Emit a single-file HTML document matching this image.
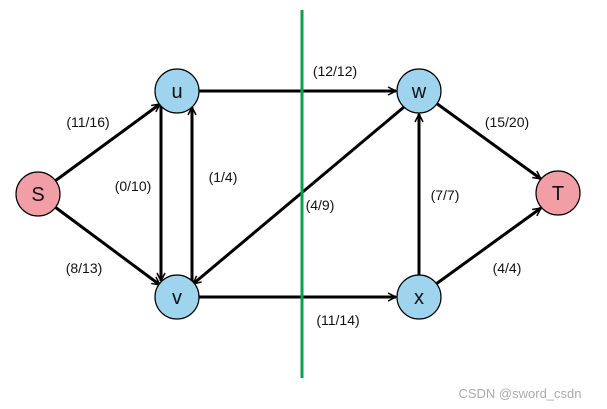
<!DOCTYPE html>
<html><head><meta charset="utf-8"><style>
html,body{margin:0;padding:0;background:#fff;}
svg{display:block;}
text{font-family:"Liberation Sans",Arial,sans-serif;}
</style></head><body>
<svg width="607" height="409" viewBox="0 0 607 409" xmlns="http://www.w3.org/2000/svg">
<defs>
<marker id="a" viewBox="0 0 10 10" refX="9" refY="5" markerWidth="10" markerHeight="10" markerUnits="userSpaceOnUse" orient="auto">
<path d="M1,1 L9,5 L1,9" fill="none" stroke="#000" stroke-width="1.5"/>
</marker>
</defs>
<g stroke="#000" stroke-width="3" fill="none" marker-end="url(#a)">
<line x1="55" y1="181" x2="160" y2="104"/>
<line x1="55" y1="207" x2="160" y2="285"/>
<line x1="161" y1="106" x2="161" y2="281"/>
<line x1="192" y1="282" x2="192" y2="107"/>
<line x1="199" y1="91" x2="396" y2="91"/>
<line x1="404" y1="107" x2="193" y2="284"/>
<line x1="199" y1="297" x2="396" y2="297"/>
<line x1="419" y1="275" x2="419" y2="114"/>
<line x1="436" y1="103" x2="541" y2="179"/>
<line x1="436" y1="284" x2="541" y2="208"/>
</g>
<line x1="302" y1="10" x2="302" y2="378" stroke="#0aa14a" stroke-width="3"/>
<g stroke="#000" stroke-width="1.2">
<circle cx="38" cy="194" r="22" fill="#f19ea6"/>
<circle cx="177" cy="91" r="22" fill="#9fd4ee"/>
<circle cx="177" cy="297" r="22" fill="#9fd4ee"/>
<circle cx="419" cy="91" r="22" fill="#9fd4ee"/>
<circle cx="419" cy="297" r="22" fill="#9fd4ee"/>
<circle cx="558" cy="193" r="22" fill="#f19ea6"/>
</g>
<g font-size="20" text-anchor="middle" fill="#111">
<text x="38" y="201">S</text>
<text x="177" y="98">u</text>
<text x="177" y="304">v</text>
<text x="419" y="98">w</text>
<text x="419" y="304">x</text>
<text x="558" y="200">T</text>
</g>
<g font-size="14" text-anchor="middle" fill="#111">
<text x="88" y="127">(11/16)</text>
<text x="84" y="273">(8/13)</text>
<text x="133" y="191">(0/10)</text>
<text x="223" y="182">(1/4)</text>
<text x="335" y="76">(12/12)</text>
<text x="320" y="210">(4/9)</text>
<text x="338" y="325">(11/14)</text>
<text x="445" y="200">(7/7)</text>
<text x="507" y="127">(15/20)</text>
<text x="507" y="273">(4/4)</text>
</g>
<text x="520" y="398" font-size="13" text-anchor="middle" fill="#aaa">CSDN @sword_csdn</text>
</svg>
</body></html>
